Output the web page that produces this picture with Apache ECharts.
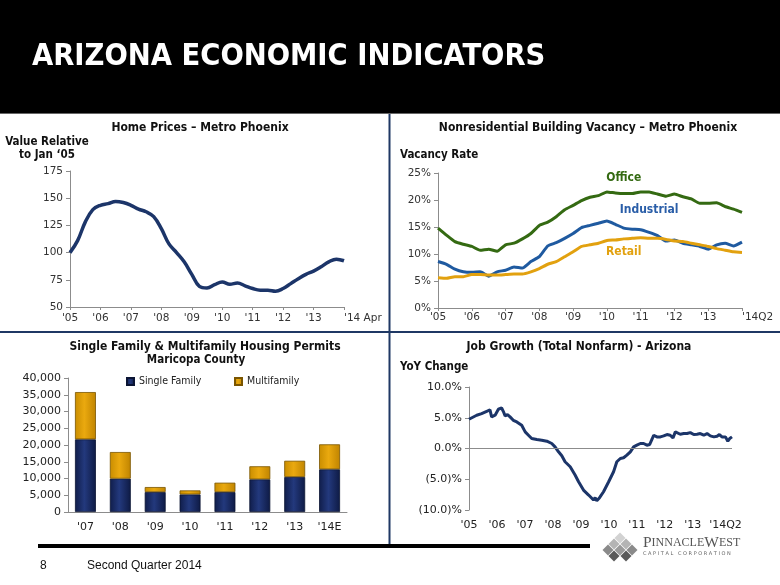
<!DOCTYPE html>
<html><head><meta charset="utf-8">
<script src="https://cdn.jsdelivr.net/npm/echarts@6/dist/echarts.min.js"></script>
<style>html,body{margin:0;padding:0;background:#fff}#c{width:780px;height:585px}</style>
</head><body><div id="c"></div>
<script>
// ---------- DATA ----------
// Home prices (quarterly, Jan '05 .. Apr '14), value relative to Jan '05 = 100
const homeTickLabels = ["'05","'06","'07","'08","'09","'10","'11","'12","'13","'14 Apr"];
const homePrices = [100,111,128,139.5,143.5,145,147,146,143.5,140,137.5,133,122,108,100,91.5,80,69,67.5,70.5,73,71,72,69.5,67,65.5,65.5,64.5,67,71.5,76,80,83,87,91.5,94,92.5];

// Vacancy rates (quarterly, '05 .. '14Q2), percent
const vacTickLabels = ["'05","'06","'07","'08","'09","'10","'11","'12","'13","'14Q2"];
const officeVacancy = [14.8,13.5,12.3,11.8,11.4,10.7,10.9,10.5,11.7,12.0,12.8,13.8,15.3,15.9,16.9,18.2,19.0,19.9,20.5,20.8,21.5,21.3,21.2,21.2,21.5,21.5,21.1,20.7,21.1,20.6,20.2,19.4,19.4,19.5,18.8,18.3,17.7];
const industrialVacancy = [8.6,8.1,7.2,6.7,6.6,6.7,5.9,6.7,7.0,7.6,7.4,8.6,9.5,11.5,12.1,12.9,13.8,14.9,15.3,15.7,16.1,15.5,14.8,14.6,14.5,14.0,13.4,12.4,12.6,12.0,11.7,11.4,10.9,11.7,12.0,11.5,12.2];
const retailVacancy = [5.6,5.5,5.8,5.8,6.2,6.2,6.1,6.1,6.2,6.3,6.3,6.7,7.3,8.1,8.6,9.5,10.4,11.4,11.7,12.0,12.5,12.6,12.8,12.9,13.0,12.9,12.9,12.7,12.4,12.3,12.0,11.7,11.4,11.0,10.7,10.4,10.3];

// Housing permits, Maricopa County
const permitYears = ["'07","'08","'09","'10","'11","'12","'13","'14E"];
const singleFamily = [21700,9950,5950,5250,5950,9750,10450,12750];
const multifamily = [14100,7950,1500,1200,2800,3900,4850,7450];

// Job growth YoY % (months since Jan '05)
const jobMonths = [0,3.3,5.4,7.6,9.0,9.7,11.2,12.6,14.0,14.7,15.5,16.5,17.6,19.0,20.5,22.6,24.1,25.5,26.9,29.1,31.2,33.4,35.5,36.9,38.4,39.8,41.2,43.4,45.5,47.0,49.1,51.3,53.4,54.1,54.8,56.0,57.7,59.9,62.0,63.4,64.9,66.3,67.7,69.2,70.6,72.0,73.5,74.9,76.3,77.5,78.5,79.2,80.6,82.1,83.5,84.9,86.3,87.5,88.5,89.2,90.6,92.1,93.5,94.9,96.4,97.8,99.2,100.7,102.1,103.5,105.0,106.4,107.4,108.5,110.0,111.0,111.8,112.8];
const jobGrowth = [4.76,5.41,5.68,6.05,6.27,5.14,5.41,6.38,6.59,6.05,5.30,5.51,5.14,4.59,4.32,3.78,2.70,2.16,1.62,1.46,1.35,1.19,0.81,0.27,-0.54,-1.19,-2.16,-2.97,-4.32,-5.41,-6.76,-7.57,-8.38,-8.0,-8.49,-8.0,-7.03,-5.41,-3.78,-2.16,-1.62,-1.51,-1.08,-0.54,0.27,0.54,0.81,0.81,0.54,0.65,1.51,2.16,1.89,1.89,2.05,2.27,2.16,1.73,2.70,2.43,2.32,2.43,2.43,2.59,2.27,2.32,2.43,2.16,2.43,2.05,1.89,2.0,2.27,1.89,1.89,1.19,1.62,1.89];
const jobTickPos = [0,12,24,36,48,60,72,84,96,110];
const jobTickLabels = ["'05","'06","'07","'08","'09","'10","'11","'12","'13","'14Q2"];

// ---------- BUILD ----------
const homeCats = homePrices.map((_, i) => 'h' + i);
const vacCats = officeVacancy.map((_, i) => 'v' + i);
const jobData = jobMonths.map((m, i) => [m, jobGrowth[i]]);

const TICK = 'DejaVu Sans';
const BOLD = 'bold 12px "DejaVu Sans Condensed", "DejaVu Sans"';
const BOLD_S = 'bold 11.5px "DejaVu Sans Condensed", "DejaVu Sans"';
const axisGray = '#8c8c8c';
const NAVY = '#1c3569';

function txt(text, x, y, font, align, fill) {
  return { type: 'text', x: x, y: y, z: 10, style: { text: text, font: font, fill: fill || '#111', align: align || 'center', verticalAlign: 'middle' } };
}
function diamond(cx, cy, r, fill) {
  return { type: 'polygon', z: 10, shape: { points: [[cx, cy - r], [cx + r, cy], [cx, cy + r], [cx - r, cy]] }, style: { fill: fill } };
}

const chart = echarts.init(document.getElementById('c'), null, { renderer: 'canvas' });

const sfGrad = new echarts.graphic.LinearGradient(0, 0, 1, 0, [
  { offset: 0, color: '#101d4a' }, { offset: 0.45, color: '#23397d' }, { offset: 1, color: '#0e1a44' }]);
const mfGrad = new echarts.graphic.LinearGradient(0, 0, 1, 0, [
  { offset: 0, color: '#c98d00' }, { offset: 0.45, color: '#eaa90f' }, { offset: 1, color: '#c08400' }]);

const option = {
  animation: false,
  textStyle: { fontFamily: TICK },
  grid: [
    { left: 70, top: 171, width: 274, height: 136 },
    { left: 438, top: 173, width: 304, height: 135 },
    { left: 68, top: 378, width: 279, height: 134 },
    { left: 469, top: 387, width: 263, height: 123 }
  ],
  legend: [
    { data: ['Single Family'], left: 121, top: 371, itemWidth: 7, itemHeight: 7, itemGap: 4, icon: 'rect',
      textStyle: { fontSize: 10.5, color: '#222', fontFamily: 'DejaVu Sans Condensed' } },
    { data: ['Multifamily'], left: 229, top: 371, itemWidth: 7, itemHeight: 7, itemGap: 4, icon: 'rect',
      textStyle: { fontSize: 10.5, color: '#222', fontFamily: 'DejaVu Sans Condensed' } }
  ],
  xAxis: [
    { type: 'category', gridIndex: 0, data: homeCats, boundaryGap: false,
      axisLine: { lineStyle: { color: axisGray } },
      axisTick: { show: true, interval: 3, length: 3, lineStyle: { color: axisGray } },
      axisLabel: { interval: 3, fontSize: 10.5, color: '#333', margin: 6, alignMaxLabel: 'left',
        formatter: (v, i) => homeTickLabels[Math.round(i / 4)] } },
    { type: 'category', gridIndex: 1, data: vacCats, boundaryGap: false,
      axisLine: { lineStyle: { color: axisGray } },
      axisTick: { show: true, interval: 3, length: 3, lineStyle: { color: axisGray } },
      axisLabel: { interval: 3, fontSize: 10.5, color: '#333', margin: 4, alignMaxLabel: 'left',
        formatter: (v, i) => vacTickLabels[Math.round(i / 4)] } },
    { type: 'category', gridIndex: 2, data: permitYears,
      axisLine: { lineStyle: { color: axisGray } },
      axisTick: { show: false },
      axisLabel: { fontSize: 11, color: '#222', margin: 10 } },
    { type: 'value', gridIndex: 3, min: 0, max: 112.8,
      axisLine: { show: false }, axisTick: { show: false }, splitLine: { show: false },
      axisLabel: { customValues: jobTickPos, fontSize: 11, color: '#222', margin: 10,
        formatter: (v) => { const k = jobTickPos.indexOf(v); return k >= 0 ? jobTickLabels[k] : ''; } } }
  ],
  yAxis: [
    { type: 'value', gridIndex: 0, min: 50, max: 175, interval: 25,
      axisLine: { show: true, lineStyle: { color: axisGray } },
      axisTick: { show: true, length: 4, lineStyle: { color: axisGray } },
      splitLine: { show: false },
      axisLabel: { fontSize: 10.5, color: '#333', margin: 7 } },
    { type: 'value', gridIndex: 1, min: 0, max: 25, interval: 5,
      axisLine: { show: true, lineStyle: { color: axisGray } },
      axisTick: { show: true, length: 4, lineStyle: { color: axisGray } },
      splitLine: { show: false },
      axisLabel: { fontSize: 10.5, color: '#333', margin: 7, formatter: '{value}%' } },
    { type: 'value', gridIndex: 2, min: 0, max: 40000, interval: 5000,
      axisLine: { show: true, lineStyle: { color: axisGray } },
      axisTick: { show: true, length: 4, lineStyle: { color: axisGray } },
      splitLine: { show: false },
      axisLabel: { fontSize: 11, color: '#222', margin: 7, formatter: (v) => v.toLocaleString('en-US') } },
    { type: 'value', gridIndex: 3, min: -10, max: 10, interval: 5,
      axisLine: { show: true, lineStyle: { color: axisGray } },
      axisTick: { show: true, length: 4, lineStyle: { color: axisGray } },
      splitLine: { show: false },
      axisLabel: { fontSize: 11, color: '#222', margin: 7,
        formatter: (v) => v < 0 ? '(' + Math.abs(v).toFixed(1) + ')%' : v.toFixed(1) + '%' } }
  ],
  series: [
    { name: 'Home Prices', type: 'line', xAxisIndex: 0, yAxisIndex: 0, data: homePrices, smooth: 0.4,
      showSymbol: false, lineStyle: { color: NAVY, width: 3.5 } },
    { name: 'Office', type: 'line', xAxisIndex: 1, yAxisIndex: 1, data: officeVacancy, smooth: 0.15,
      showSymbol: false, lineStyle: { color: '#346a12', width: 3 },
      markPoint: { symbol: 'circle', symbolSize: 0, data: [{ coord: [vacCats[22], 24.1] }],
        label: { show: true, formatter: 'Office', color: '#346a12', fontWeight: 'bold', fontSize: 12, fontFamily: 'DejaVu Sans Condensed' } } },
    { name: 'Industrial', type: 'line', xAxisIndex: 1, yAxisIndex: 1, data: industrialVacancy, smooth: 0.15,
      showSymbol: false, lineStyle: { color: '#1f5aa0', width: 3 },
      markPoint: { symbol: 'circle', symbolSize: 0, data: [{ coord: [vacCats[25], 18.2] }],
        label: { show: true, formatter: 'Industrial', color: '#2a5ea8', fontWeight: 'bold', fontSize: 12, fontFamily: 'DejaVu Sans Condensed' } } },
    { name: 'Retail', type: 'line', xAxisIndex: 1, yAxisIndex: 1, data: retailVacancy, smooth: 0.15,
      showSymbol: false, lineStyle: { color: '#e2a10f', width: 3 },
      markPoint: { symbol: 'circle', symbolSize: 0, data: [{ coord: [vacCats[22], 10.4] }],
        label: { show: true, formatter: 'Retail', color: '#e2a10f', fontWeight: 'bold', fontSize: 12, fontFamily: 'DejaVu Sans Condensed' } } },
    { name: 'Single Family', type: 'bar', xAxisIndex: 2, yAxisIndex: 2, stack: 'permits', data: singleFamily,
      barWidth: '60%', itemStyle: { color: sfGrad, borderColor: '#0b1433', borderWidth: 0.8 } },
    { name: 'Multifamily', type: 'bar', xAxisIndex: 2, yAxisIndex: 2, stack: 'permits', data: multifamily,
      barWidth: '60%', itemStyle: { color: mfGrad, borderColor: '#7a5500', borderWidth: 0.8 } },
    { name: 'Job Growth', type: 'line', xAxisIndex: 3, yAxisIndex: 3, data: jobData, smooth: false,
      showSymbol: false, lineStyle: { color: NAVY, width: 3 },
      markLine: { silent: true, symbol: 'none', label: { show: false },
        lineStyle: { color: axisGray, width: 1, type: 'solid' }, data: [{ yAxis: 0 }] } }
  ],
  graphic: [
    { type: 'rect', z: 1, shape: { x: 0, y: 0, width: 780, height: 113 }, style: { fill: '#000' } },
    { type: 'rect', z: 1, shape: { x: 0, y: 113, width: 780, height: 1 }, style: { fill: '#666' } },
    txt('ARIZONA ECONOMIC INDICATORS', 32, 57, 'bold 30.5px "DejaVu Sans Condensed", "DejaVu Sans"', 'left', '#fff'),
    { type: 'line', z: 1, shape: { x1: 389.5, y1: 114, x2: 389.5, y2: 545 }, style: { stroke: '#1f3864', lineWidth: 2 } },
    { type: 'line', z: 1, shape: { x1: 0, y1: 332, x2: 780, y2: 332 }, style: { stroke: '#1f3864', lineWidth: 2 } },
    { type: 'rect', z: 1, shape: { x: 38, y: 544, width: 552, height: 4 }, style: { fill: '#000' } },
    txt('8', 40, 566, '12px "Liberation Sans"', 'left', '#111'),
    txt('Second Quarter 2014', 87, 566, '12px "Liberation Sans"', 'left', '#111'),
    txt('Home Prices – Metro Phoenix', 200, 128, BOLD),
    txt('Value Relative', 47, 142, BOLD_S),
    txt('to Jan ‘05', 47, 155, BOLD_S),
    txt('Nonresidential Building Vacancy – Metro Phoenix', 588, 128, BOLD),
    txt('Vacancy Rate', 400, 155, BOLD_S, 'left'),
    txt('Single Family & Multifamily Housing Permits', 205, 347, BOLD),
    txt('Maricopa County', 196, 360, BOLD_S),
    txt('Job Growth (Total Nonfarm) - Arizona', 579, 347, BOLD),
    txt('YoY Change', 400, 367, BOLD_S, 'left'),
    // logo
    diamond(620, 538, 5.5, '#d2d2d2'),
    diamond(614, 544, 5.5, '#b4b4b4'), diamond(626, 544, 5.5, '#b4b4b4'),
    diamond(608, 550, 5.5, '#8a8a8a'), diamond(620, 550, 5.5, '#9a9a9a'), diamond(632, 550, 5.5, '#8a8a8a'),
    diamond(614, 556, 5.5, '#5a5a5a'), diamond(626, 556, 5.5, '#5a5a5a'),
    { type: 'text', x: 643, y: 543, z: 10, style: {
        text: '{b|P}{s|INNACLE}{b|W}{s|EST}', verticalAlign: 'middle', align: 'left',
        rich: { b: { font: '15.5px "Liberation Serif"', fill: '#555' }, s: { font: '12px "Liberation Serif"', fill: '#555' } } } },
    txt('C A P I T A L   C O R P O R A T I O N', 643, 554, '5px "DejaVu Sans"', 'left', '#666')
  ]
};
chart.setOption(option);
</script>
</body></html>
